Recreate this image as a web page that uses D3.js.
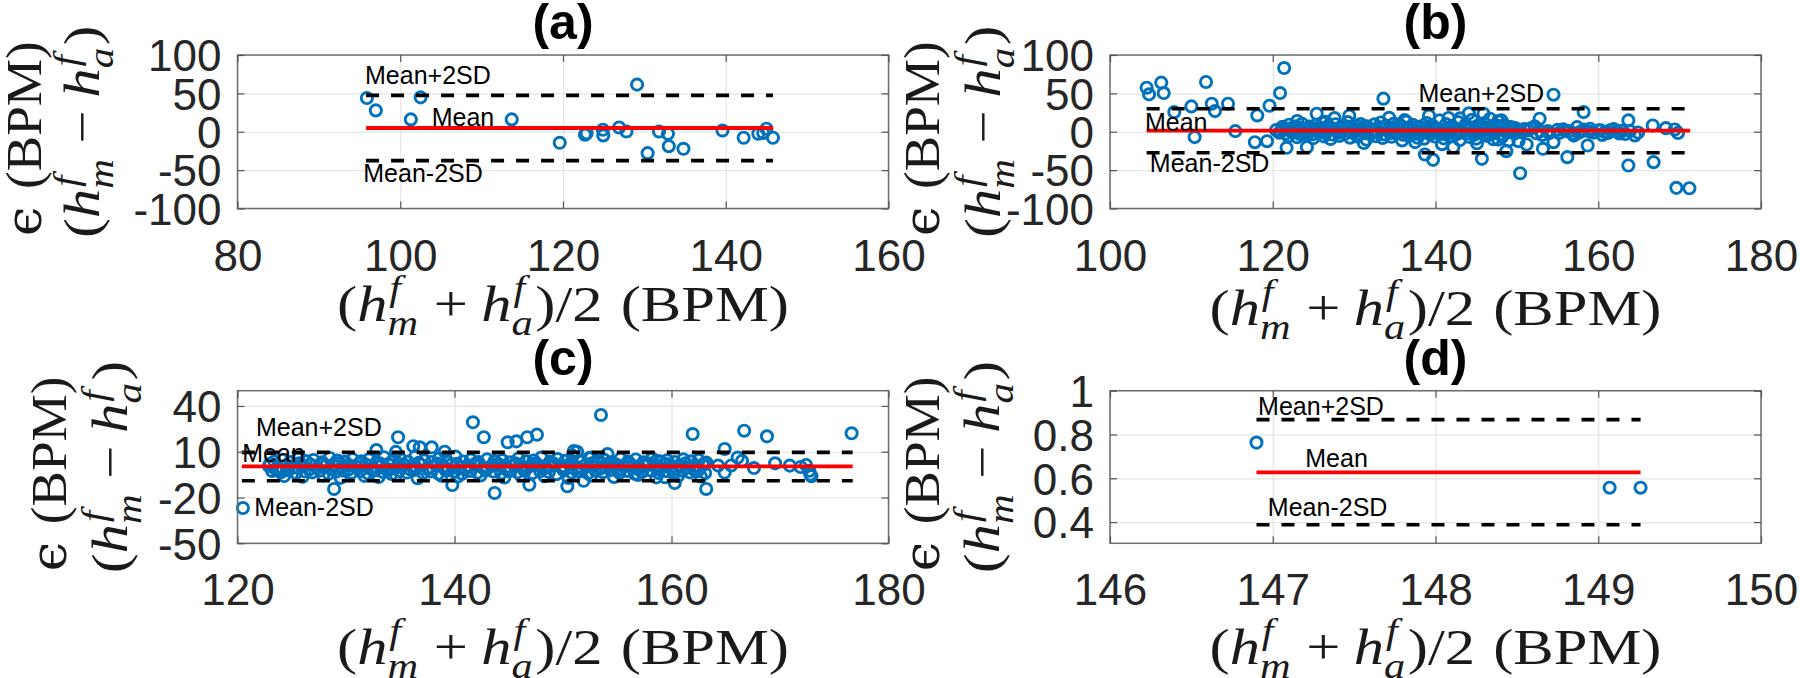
<!DOCTYPE html>
<html><head><meta charset="utf-8">
<script src="https://cdn.jsdelivr.net/npm/d3@7"></script>
<style>body{margin:0;background:#fff}svg{display:block}</style>
</head><body>
<script>
// ================= DATA =================
const titles = ["(a)", "(b)", "(c)", "(d)"];
const refLabels = ["Mean+2SD", "Mean", "Mean-2SD"];

const aXTicks = [80, 100, 120, 140, 160];
const aYTicks = [-100, -50, 0, 50, 100];
const bXTicks = [100, 120, 140, 160, 180];
const bYTicks = [-100, -50, 0, 50, 100];
const cXTicks = [120, 140, 160, 180];
const cYTicks = [-50, -20, 10, 40];
const dXTicks = [146, 147, 148, 149, 150];
const dYTicks = [0.4, 0.6, 0.8, 1];

// reference lines: [mean, mean+2SD, mean-2SD]
const aRefLines = [4.9, 47.4, -37.6];
const bRefLines = [1.4, 30.0, -27.3];
const cRefLines = [0.4, 9.6, -9.0];
const dRefLines = [0.627, 0.868, 0.388];
// x extent of the reference lines
const aSpan = [95.8, 145.8];
const bSpan = [104.5, 171.3];
const cSpan = [120.4, 176.7];
const dSpan = [146.9, 149.26];
// annotation anchors (data coords) for Mean+2SD, Mean, Mean-2SD
const aLabelAt = [[95.67, 62.2], [103.86, 7.5], [95.46, -65.1]];
const bLabelAt = [[137.9, 39.2], [104.3, 1.4], [104.9, -52.0]];
const cLabelAt = [[121.7, 20.1], [120.44, 3.5], [121.55, -31.9]];
const dLabelAt = [[146.91, 0.889], [147.2, 0.653], [146.97, 0.4265]];

const aPoints = [[95.9,43.9],[97.0,27.8],[102.5,44.8],[101.3,16.1],[113.7,16.1],[119.6,-14.4],[122.7,-3.9],[122.9,-2.0],[124.9,2.6],[124.95,-4.8],[126.9,5.6],[127.8,0.4],[129.1,61.4],[130.4,-27.9],[131.8,0.4],[132.9,-2.6],[133.0,-18.8],[134.8,-22.2],[139.6,1.7],[142.2,-7.8],[144.0,-2.6],[144.6,-1.5],[145.0,3.9],[145.8,-7.8]];

const bPoints = [
[104.5,57.4],[104.8,48.7],[106.3,64.0],[106.6,50.4],[107.9,25.6],[110.0,33.0],[110.4,-7.0],[111.8,64.8],[112.5,36.5],[112.9,26.9],[114.5,36.5],[115.4,0.8],[117.8,-13.6],[118.1,21.3],[119.3,-12.3],[119.6,33.9],[120.9,50.4],[121.4,83.0],[121.7,-20.9],[124.2,-20.1],[123.0,14.0],[126.5,13.0],
[121.2,6.5],[122.0,9.1],[122.9,7.2],[123.6,10.4],[124.5,6.8],[125.3,8.9],[126.1,11.7],[126.8,7.5],[127.7,9.8],[128.4,6.2],[129.2,12.6],[130.1,8.3],[130.8,10.1],[131.6,7.0],[132.5,9.6],[133.3,12.1],[134.0,7.8],[134.9,10.7],[135.7,8.4],[136.4,13.3],[137.2,9.2],[138.1,6.9],[138.9,11.4],[139.6,8.6],[140.5,14.8],[141.3,9.9],[142.0,7.3],[142.8,12.5],[143.7,9.0],[144.5,15.6],[145.2,8.1],[146.0,11.2],[146.9,7.4],[147.7,13.9],[148.5,8.8],[149.3,6.1],
[120.4,2.1],[121.3,3.8],[122.1,1.6],[122.8,4.4],[123.7,2.7],[124.4,3.5],[125.2,1.9],[126.0,4.6],[126.9,2.4],[127.6,3.1],[128.5,4.9],[129.3,1.8],[130.0,3.6],[130.9,2.2],[131.7,4.1],[132.4,2.9],[133.2,5.2],[134.1,1.7],[134.8,3.9],[135.6,2.5],[136.5,4.7],[137.3,2.0],[138.0,3.4],[138.8,5.0],[139.7,2.6],[140.4,3.8],[141.2,1.5],[142.1,4.3],[142.9,2.8],[143.6,3.3],[144.4,5.4],[145.3,2.3],[146.1,3.7],[146.8,1.9],[147.6,4.5],[148.4,2.6],[149.2,3.2],[150.1,1.4],
[120.8,-1.2],[121.6,-2.4],[122.5,-0.8],[123.3,-2.9],[124.0,-1.5],[124.9,-3.3],[125.7,-0.9],[126.5,-2.1],[127.3,-3.6],[128.1,-1.3],[128.9,-2.7],[129.7,-0.6],[130.5,-3.1],[131.3,-1.8],[132.1,-2.5],[132.9,-0.7],[133.7,-3.4],[134.5,-1.6],[135.2,-2.2],[136.0,-3.8],[136.9,-1.1],[137.6,-2.6],[138.5,-0.9],[139.3,-3.2],[140.1,-1.7],[140.8,-2.8],[141.7,-0.5],[142.5,-3.5],[143.3,-1.4],[144.1,-2.3],[144.8,-3.7],[145.6,-1.0],[146.5,-2.9],[147.3,-1.6],[148.1,-3.1],[148.9,-0.8],[149.7,-2.4],
[121.9,-5.8],[123.0,-7.1],[124.2,-5.2],[125.0,-8.3],[126.3,-6.0],[127.1,-9.4],[128.2,-5.5],[129.5,-7.7],[130.4,-6.3],[131.5,-10.2],[132.7,-5.9],[133.5,-8.1],[134.6,-6.6],[135.9,-11.3],[136.7,-5.4],[137.8,-7.9],[138.6,-9.0],[139.9,-6.2],[141.0,-8.6],[141.9,-5.7],[143.0,-10.8],[144.2,-6.8],[145.0,-8.9],[146.3,-5.3],[147.1,-9.7],[148.2,-6.4],[149.0,-11.6],
[121.0,0.4],[122.4,5.3],[123.5,-0.3],[124.7,5.9],[125.8,0.8],[127.0,6.1],[128.0,-0.2],[129.0,5.6],[130.2,0.6],[131.1,6.4],[132.2,0.1],[133.4,5.8],[134.4,0.9],[135.5,6.2],[136.6,-0.4],[137.6,5.5],[138.7,0.7],[139.8,6.0],[140.9,0.2],[141.8,5.7],[142.8,-0.1],[143.9,6.3],[145.0,0.5],[146.0,5.9],[147.0,0.3],[148.0,6.5],[149.0,-0.2],[149.8,4.8],
[125.4,23.5],[127.6,17.8],[129.4,20.9],[131.2,-14.7],[133.6,43.1],[134.3,18.2],[136.2,15.1],[137.5,-13.5],[138.7,-29.6],[139.7,-36.6],[139.2,21.0],[140.8,-16.2],[141.6,18.0],[142.2,-20.1],[143.0,17.4],[144.1,24.0],[145.1,-15.0],[145.7,-35.3],[145.9,23.5],[146.7,17.0],[147.5,8.0],[147.7,-10.0],[148.1,14.8],[148.5,8.2],[148.7,-25.3],[150.2,-12.3],[150.4,-54.0],[151.2,-16.6],[151.7,4.5],[152.2,7.0],[152.4,-2.0],[152.8,17.0],[153.2,-22.2],[153.8,0.8],[154.5,-13.6],[154.5,48.3],[155.2,-1.5],[156.0,1.2],[156.2,-33.1],[156.8,-2.6],[157.4,6.0],[157.9,0.4],[158.2,25.6],[158.2,3.0],[158.7,-17.9],[159.4,-1.1],[160.1,1.8],[160.8,-0.5],[161.5,2.3],[162.2,0.6],[162.9,1.4],[163.3,-3.0],[163.7,14.8],[163.7,-44.0],[164.5,-4.8],[166.7,8.2],[166.8,-39.6],[168.3,4.7],[169.4,3.0],[169.8,-1.5],[169.6,-73.1],[171.2,-73.6],
[150.9,3.5],[153.1,-4.2],[155.7,3.1],[157.0,-5.0],[159.0,4.0],[160.5,-4.1],[161.9,3.6],[162.6,-2.2],
[150.6,-0.8],[151.4,1.9],[152.9,0.5],[154.0,-1.8],[155.0,2.4],[156.5,0.9],[157.6,-1.4],[158.9,0.2],[160.3,2.0],[161.2,-1.7],[162.4,-0.3],[163.9,0.9],[164.9,-1.0]
];

const cPoints = [
[123.4,3.6],[124.1,4.8],[124.9,3.2],[125.6,5.5],[126.3,3.9],[127.0,4.6],[127.8,3.1],[128.5,5.9],[129.2,4.2],[129.9,3.4],[130.6,5.1],[131.4,3.8],[132.1,4.9],[132.8,3.0],[133.5,6.4],[134.3,4.0],[135.0,5.3],[135.7,3.5],[136.4,7.1],[137.2,4.4],[137.9,3.3],[138.6,5.7],[139.3,4.1],[140.1,6.8],[140.8,3.6],[141.5,4.8],[142.2,3.2],[143.0,5.0],[143.7,3.9],[144.4,4.5],[145.1,3.1],[145.9,5.6],[146.6,3.7],[147.3,4.3],[148.0,6.2],[148.8,3.4],[149.5,5.2],[150.2,4.0],[150.9,7.3],[151.6,3.5],[152.4,5.8],[153.1,3.9],[153.8,4.7],[154.5,3.2],[155.3,5.4],[156.0,3.6],[156.7,4.9],[157.4,3.0],[158.2,5.5],[158.9,3.8],[159.6,4.4],[160.3,3.3],[161.1,5.0],[161.8,3.7],[162.5,4.6],[163.2,2.9],
[122.9,0.6],[123.7,-0.4],[124.5,1.2],[125.2,-0.2],[125.9,0.9],[126.7,1.7],[127.4,-0.6],[128.1,0.8],[128.8,1.5],[129.6,-0.3],[130.3,1.1],[131.0,0.2],[131.8,1.6],[132.5,-0.5],[133.2,0.7],[133.9,1.9],[134.7,-0.1],[135.4,1.3],[136.1,0.4],[136.8,1.8],[137.6,-0.7],[138.3,1.0],[139.0,0.3],[139.7,1.6],[140.5,-0.2],[141.2,0.9],[141.9,1.4],[142.6,-0.4],[143.4,0.6],[144.1,1.7],[144.8,0.1],[145.5,1.2],[146.3,-0.5],[147.0,0.8],[147.7,1.5],[148.4,0.0],[149.2,1.1],[149.9,0.5],[150.6,1.8],[151.3,-0.3],[152.0,0.9],[152.8,1.4],[153.5,-0.1],[154.2,0.7],[154.9,1.6],[155.6,0.2],[156.4,1.0],[157.1,-0.6],[157.8,1.3],[158.5,0.4],[159.3,1.7],[160.0,0.1],[160.7,1.1],[161.4,-0.4],[162.2,0.8],[162.9,1.2],
[123.2,-2.6],[124.0,-3.4],[124.7,-2.1],[125.4,-4.0],[126.2,-2.8],[126.9,-3.5],[127.6,-2.3],[128.4,-4.4],[129.1,-3.0],[129.8,-2.4],[130.5,-3.8],[131.3,-2.7],[132.0,-4.1],[132.7,-2.2],[133.4,-3.3],[134.2,-4.6],[134.9,-2.5],[135.6,-3.6],[136.3,-2.0],[137.1,-3.9],[137.8,-2.9],[138.5,-4.3],[139.2,-2.3],[140.0,-3.2],[140.7,-4.5],[141.4,-2.6],[142.1,-3.7],[142.9,-2.1],[143.6,-3.0],[144.3,-4.2],[145.0,-2.7],[145.8,-3.5],[146.5,-2.4],[147.2,-4.0],[147.9,-2.8],[148.7,-3.3],[149.4,-4.7],[150.1,-2.2],[150.8,-3.6],[151.5,-2.9],[152.3,-4.1],[153.0,-2.5],[153.7,-3.4],[154.4,-2.0],[155.2,-3.8],[155.9,-2.6],[156.6,-4.4],[157.3,-3.1],[158.1,-2.3],[158.8,-3.9],[159.5,-2.7],[160.2,-4.3],[161.0,-2.4],[161.7,-3.5],[162.4,-2.8],[163.1,-4.0],
[124.3,-5.9],[126.0,-6.4],[127.9,-5.6],[129.5,-7.1],[131.7,-5.8],[133.0,-6.6],[134.6,-5.3],[136.6,-7.4],[138.8,-5.7],[140.3,-6.3],[142.4,-5.5],[144.6,-6.9],[146.1,-5.4],[148.3,-6.0],[150.5,-7.2],[152.6,-5.6],[154.7,-6.5],[156.9,-5.2],[158.6,-6.8],[160.6,-5.9],[162.7,-6.2],
[123.0,2.1],[124.6,-1.4],[125.7,2.4],[126.6,-1.6],[127.7,1.9],[128.6,-1.2],[129.4,2.6],[130.2,-1.8],[131.2,2.2],[132.3,-1.3],[133.1,2.5],[134.0,-1.7],[134.9,2.0],[135.9,-1.5],[136.7,2.7],[137.5,-1.1],[138.4,2.3],[139.4,-1.9],[140.2,2.1],[141.0,-1.4],[142.0,2.6],[142.8,-1.6],[143.8,1.8],[144.7,-1.3],[145.6,2.4],[146.4,-1.8],[147.4,2.2],[148.2,-1.2],[149.1,2.5],[150.0,-1.5],[150.9,2.0],[151.8,-1.7],[152.6,2.3],[153.4,-1.1],[154.3,2.6],[155.1,-1.9],[156.1,2.1],[156.9,-1.4],[157.8,2.4],[158.7,-1.6],[159.5,2.0],[160.4,-1.3],[161.3,2.5],[162.1,-1.8],[163.0,2.2],
[120.5,-26.9],[123.6,-2.0],[123.8,-2.4],[128.9,-14.4],[132.8,11.1],[134.6,9.9],[134.8,19.5],[136.2,13.6],[136.8,12.9],[137.9,12.9],[139.1,10.0],[139.8,-11.8],[141.7,29.3],[142.7,19.5],[143.7,-17.0],[144.9,16.2],[145.7,16.8],[146.7,19.5],[147.6,21.2],[146.9,-11.6],[150.4,-12.6],[151.0,10.5],[151.3,10.0],[151.9,-9.0],[152.6,6.2],[153.5,34.1],[154.1,8.5],[158.6,4.1],[159.4,-6.7],[160.3,-10.5],[161.95,21.6],[163.2,-14.4],[164.3,0.9],[164.9,11.8],[164.9,-3.6],[165.5,1.0],[166.1,6.2],[166.5,4.0],[166.7,23.8],[167.6,-0.7],[168.8,20.1],[169.55,2.4],[170.9,0.9],[171.9,0.0],[172.4,1.3],[172.7,-2.5],[172.8,-5.0],[172.9,-6.0],[176.6,22.1]
];

const dPoints = [[146.9,0.763],[149.07,0.557],[149.26,0.557]];

// ================= LAYOUT =================
const W = 1800, H = 678;
const panels = [
  {title: titles[0], pts: aPoints, ref: aRefLines, span: aSpan, lab: aLabelAt, xt: aXTicks, yt: aYTicks,
   xd: [80, 160], yd: [-100, 100], x0: 237.5, x1: 888.5, y0: 55, y1: 208.5, yl1: 41, yl2: 99, xlb: 321},
  {title: titles[1], pts: bPoints, ref: bRefLines, span: bSpan, lab: bLabelAt, xt: bXTicks, yt: bYTicks,
   xd: [100, 180], yd: [-100, 100], x0: 1110, x1: 1761, y0: 55, y1: 208.5, yl1: 939, yl2: 1000, xlb: 325},
  {title: titles[2], pts: cPoints, ref: cRefLines, span: cSpan, lab: cLabelAt, xt: cXTicks, yt: cYTicks,
   xd: [120, 180], yd: [-50, 50], x0: 237.5, x1: 888.5, y0: 390.7, y1: 543.3, yl1: 65.5, yl2: 127, xlb: 664},
  {title: titles[3], pts: dPoints, ref: dRefLines, span: dSpan, lab: dLabelAt, xt: dXTicks, yt: dYTicks,
   xd: [146, 150], yd: [0.303, 1], x0: 1110, x1: 1761, y0: 390.7, y1: 543.3, yl1: 939, yl2: 999, xlb: 664}
];

const svg = d3.select("body").append("svg").attr("width", W).attr("height", H)
  .style("background", "#fff");

const SANS = "'Liberation Sans', Arial, Helvetica, sans-serif";
const SERIF = "'Liberation Serif', 'Times New Roman', 'DejaVu Serif', serif";

function mathRow(parent, tokens, fs) {
  const g = parent.append("g").attr("font-family", SERIF).attr("fill", "#1a1a1a");
  let cx = 0;
  const ss = fs * 0.7;
  tokens.forEach(tk => {
    if (tk.sp) { cx += tk.sp * fs; return; }
    const t = g.append("text").attr("x", cx).attr("y", 0).attr("font-size", fs)
      .attr("font-style", tk.it ? "italic" : "normal").text(tk.t);
    if (tk.fam) t.attr("font-family", tk.fam);
    cx += t.node().getComputedTextLength();
    if (tk.sup || tk.sub) {
      let w = 0;
      if (tk.sup) {
        const s = g.append("text").attr("x", cx + fs * 0.03).attr("y", -fs * 0.42).attr("font-size", ss)
          .attr("font-style", "italic").text(tk.sup);
        w = Math.max(w, s.node().getComputedTextLength() + fs * 0.03);
      }
      if (tk.sub) {
        const s = g.append("text").attr("x", cx).attr("y", fs * 0.27).attr("font-size", ss)
          .attr("font-style", "italic").text(tk.sub);
        w = Math.max(w, s.node().getComputedTextLength());
      }
      cx += w + fs * 0.04;
    }
  });
  return {g, w: cx};
}

const xLabTokens = [{t: "("}, {t: "h", it: 1, sup: "f", sub: "m"}, {sp: 0.22}, {t: "+"}, {sp: 0.22},
  {t: "h", it: 1, sup: "f", sub: "a"}, {t: ")"}, {t: "/"}, {t: "2"}, {sp: 0.3}, {t: "(BPM)"}];
const yLab1Tokens = [{t: "ϵ", fam: "'DejaVu Serif', serif"}, {sp: 0.33}, {t: "(BPM)"}];
const yLab2Tokens = [{t: "("}, {t: "h", it: 1, sup: "f", sub: "m"}, {sp: 0.22}, {t: "−"}, {sp: 0.22},
  {t: "h", it: 1, sup: "f", sub: "a"}, {t: ")"}];

const FS = 50;

panels.forEach(p => {
  const x = d3.scaleLinear().domain(p.xd).range([p.x0, p.x1]);
  const y = d3.scaleLinear().domain(p.yd).range([p.y1, p.y0]);
  const g = svg.append("g");
  const pw = p.x1 - p.x0, ph = p.y1 - p.y0;

  // grid
  g.append("g").attr("transform", `translate(0,${p.y1})`)
    .call(d3.axisBottom(x).tickValues(p.xt).tickSize(-ph).tickFormat(""))
    .call(s => { s.select(".domain").remove(); s.selectAll("line").attr("stroke", "#e4e4e4").attr("stroke-width", 1.2); });
  g.append("g").attr("transform", `translate(${p.x0},0)`)
    .call(d3.axisLeft(y).tickValues(p.yt).tickSize(-pw).tickFormat(""))
    .call(s => { s.select(".domain").remove(); s.selectAll("line").attr("stroke", "#e4e4e4").attr("stroke-width", 1.2); });

  // points
  g.append("g").selectAll("circle").data(p.pts).join("circle")
    .attr("cx", d => x(d[0])).attr("cy", d => y(d[1])).attr("r", 5.6)
    .attr("fill", "none").attr("stroke", "#0072BD").attr("stroke-width", 2.9);

  // reference lines
  const line = d3.line().x(d => x(d[0])).y(d => y(d[1]));
  [1, 2].forEach(i => {
    g.append("path").datum([[p.span[0], p.ref[i]], [p.span[1], p.ref[i]]]).attr("d", line)
      .attr("stroke", "#000").attr("stroke-width", 3.6).attr("stroke-dasharray", "13,12").attr("fill", "none");
  });
  g.append("path").datum([[p.span[0], p.ref[0]], [p.span[1], p.ref[0]]]).attr("d", line)
    .attr("stroke", "#ff0000").attr("stroke-width", 3.8).attr("fill", "none");

  // annotations
  g.append("g").selectAll("text").data(p.lab).join("text")
    .attr("x", d => x(d[0])).attr("y", d => y(d[1]))
    .attr("font-family", SANS).attr("font-size", 25).attr("fill", "#000")
    .text((d, i) => refLabels[i]);

  // box
  g.append("rect").attr("x", p.x0).attr("y", p.y0).attr("width", pw).attr("height", ph)
    .attr("fill", "none").attr("stroke", "#6e6e6e").attr("stroke-width", 1.5);

  // inward ticks on all sides
  const tickStyle = s => { s.select(".domain").remove(); s.selectAll("line").attr("stroke", "#555").attr("stroke-width", 1.2); };
  g.append("g").attr("transform", `translate(0,${p.y1})`).call(d3.axisBottom(x).tickValues(p.xt).tickSize(-7).tickFormat("")).call(tickStyle);
  g.append("g").attr("transform", `translate(0,${p.y0})`).call(d3.axisTop(x).tickValues(p.xt).tickSize(-7).tickFormat("")).call(tickStyle);
  g.append("g").attr("transform", `translate(${p.x0},0)`).call(d3.axisLeft(y).tickValues(p.yt).tickSize(-7).tickFormat("")).call(tickStyle);
  g.append("g").attr("transform", `translate(${p.x1},0)`).call(d3.axisRight(y).tickValues(p.yt).tickSize(-7).tickFormat("")).call(tickStyle);

  // tick labels
  g.append("g").attr("transform", `translate(0,${p.y1})`)
    .call(d3.axisBottom(x).tickValues(p.xt).tickSize(0).tickFormat(d => String(d)))
    .call(s => {
      s.select(".domain").remove();
      s.attr("font-family", SANS).attr("font-size", 44);
      s.selectAll("text").attr("y", 62).attr("dy", null).attr("fill", "#262626");
    });
  g.append("g").attr("transform", `translate(${p.x0},0)`)
    .call(d3.axisLeft(y).tickValues(p.yt).tickSize(0).tickFormat(d => String(d)))
    .call(s => {
      s.select(".domain").remove();
      s.attr("font-family", SANS).attr("font-size", 44);
      s.selectAll("text").attr("x", -16).attr("dy", "0.36em").attr("fill", "#262626");
    });

  // title
  g.append("text").attr("x", (p.x0 + p.x1) / 2).attr("y", p.y0 - 16)
    .attr("text-anchor", "middle").attr("font-family", SANS).attr("font-weight", "bold")
    .attr("font-size", 50).attr("fill", "#000").text(p.title);

  // x label
  const xl = mathRow(g, xLabTokens, FS);
  const sx = 452 / xl.w;
  xl.g.attr("transform", `translate(${(p.x0 + p.x1) / 2},${p.xlb}) scale(${sx},1) translate(${-xl.w / 2},0)`);

  // y label (two lines)
  const cy = (p.y0 + p.y1) / 2;
  const y1l = mathRow(g, yLab1Tokens, FS);
  const s1 = 195 / y1l.w;
  y1l.g.attr("transform", `translate(${p.yl1},${cy + 7}) rotate(-90) scale(${s1},1) translate(${-y1l.w / 2},0)`);
  const y2l = mathRow(g, yLab2Tokens, FS);
  const s2 = 212 / y2l.w;
  y2l.g.attr("transform", `translate(${p.yl2},${cy}) rotate(-90) scale(${s2},1) translate(${-y2l.w / 2},0)`);
});
</script>
</body></html>
